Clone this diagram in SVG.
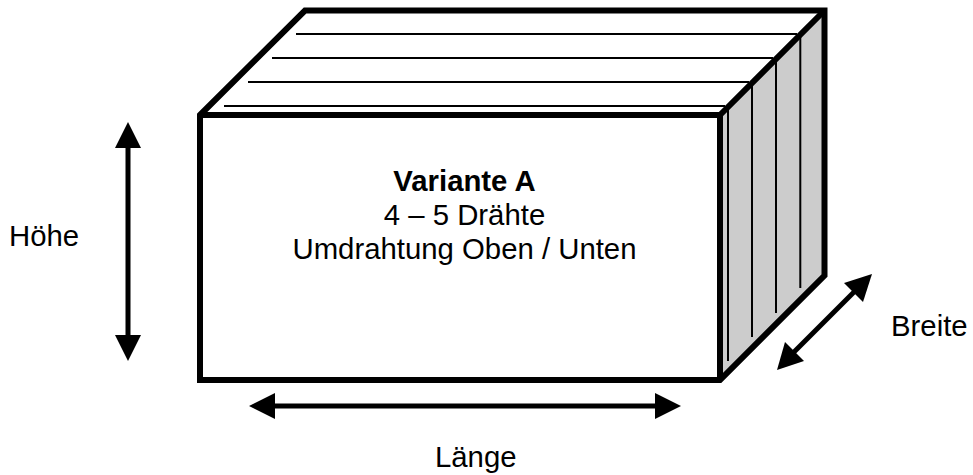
<svg xmlns="http://www.w3.org/2000/svg" width="973" height="475" viewBox="0 0 973 475">
<style>
text{font-family:"Liberation Sans",Arial,sans-serif;font-size:29.330px;fill:#000}
.c{text-anchor:middle}
.w{stroke:#000;stroke-width:2;fill:none}
.b{stroke:#000;stroke-width:6;fill:none;stroke-linejoin:miter}
.a{stroke:#000;stroke-width:5;fill:none}
.h{fill:#000;stroke:none}
</style>
<rect width="973" height="475" fill="#fff"/>
<g id="box">
<polygon id="side-face" points="720,115 824.500,10.500 824.500,275.500 720,380" fill="#ccc"/>
<g id="wires">
<path class="w" d="M296,34H797M272,58H773M248,82H749M224,106H725"/>
<path class="w" d="M800.300,32V288M776,56V313M752,80V337M728,104V361"/>
</g>
<path id="inner-edges" class="b" d="M200,115H720V380M720,115L824.500,10.500"/>
<polygon id="outline" class="b" points="200,115 305,10.500 824.500,10.500 824.500,275.500 720,380 200,380"/>
</g>
<g id="connectors">
<g id="hoehe-arrow"><path class="a" d="M128,146V337"/><polygon class="h" points="128,122 141,148 115,148"/><polygon class="h" points="128,361 115,335 141,335"/></g>
<g id="laenge-arrow"><path class="a" d="M273,406H657"/><polygon class="h" points="249,406 275,393 275,419"/><polygon class="h" points="681,406 655,419 655,393"/></g>
<g id="breite-arrow"><path class="a" d="M793,353L855,291"/><polygon class="h" points="872,274 863,302 844,283"/><polygon class="h" points="777,370 785,342 804,361"/></g>
</g>
<g id="labels">
<text class="c" x="464.500" y="191" style="font-weight:bold">Variante A</text>
<text class="c" x="464.500" y="225">4 – 5 Drähte</text>
<text class="c" x="464.500" y="259">Umdrahtung Oben / Unten</text>
<text x="9" y="246">Höhe</text>
<text x="891" y="336">Breite</text>
<text x="435" y="467">Länge</text>
</g>
</svg>
